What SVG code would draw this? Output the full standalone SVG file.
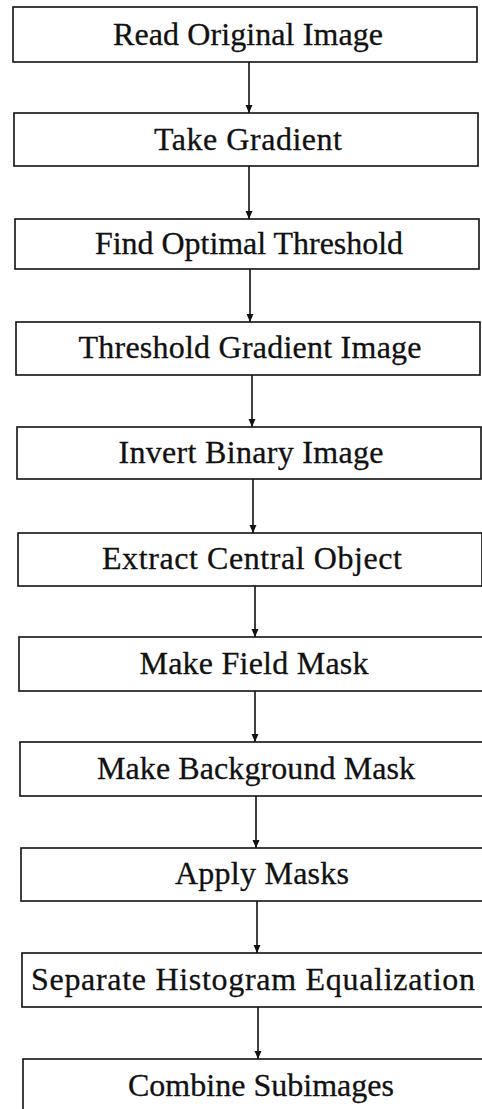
<svg xmlns="http://www.w3.org/2000/svg" width="482" height="1109" viewBox="0 0 482 1109">
<defs>
<style>
.box{fill:#fff;stroke:#111;stroke-width:1.6}
.lbl{font-family:"Liberation Serif","Times New Roman",serif;font-size:32px;fill:#111;stroke:#111;stroke-width:0.3;text-anchor:middle}
.conn{stroke:#111;stroke-width:1.6;fill:none}
</style>
<marker id="ah" viewBox="0 0 8 10" refX="8" refY="5" markerWidth="8" markerHeight="10" markerUnits="userSpaceOnUse" orient="auto">
<path d="M0,1.5 L8,5 L0,8.5 Z" fill="#111"/>
</marker>
</defs>
<rect width="482" height="1109" fill="#fff"/>
<g id="n1"><rect class="box" x="13" y="7" width="464" height="55"/><text class="lbl" x="248" y="45" textLength="270" lengthAdjust="spacing">Read Original Image</text></g>
<g id="n2"><rect class="box" x="14" y="113" width="464" height="53"/><text class="lbl" x="248" y="150" textLength="188" lengthAdjust="spacing">Take Gradient</text></g>
<g id="n3"><rect class="box" x="15" y="219" width="464" height="50"/><text class="lbl" x="249" y="254" textLength="308" lengthAdjust="spacing">Find Optimal Threshold</text></g>
<g id="n4"><rect class="box" x="16" y="322" width="464" height="53"/><text class="lbl" x="250" y="358" textLength="343" lengthAdjust="spacing">Threshold Gradient Image</text></g>
<g id="n5"><rect class="box" x="17" y="427" width="464" height="52"/><text class="lbl" x="251" y="463" textLength="265" lengthAdjust="spacing">Invert Binary Image</text></g>
<g id="n6"><rect class="box" x="18" y="533" width="464" height="53"/><text class="lbl" x="252" y="569" textLength="300" lengthAdjust="spacing">Extract Central Object</text></g>
<g id="n7"><rect class="box" x="19" y="637" width="464" height="54"/><text class="lbl" x="254" y="674" textLength="229" lengthAdjust="spacing">Make Field Mask</text></g>
<g id="n8"><rect class="box" x="20" y="742" width="464" height="54"/><text class="lbl" x="256" y="779" textLength="318" lengthAdjust="spacing">Make Background Mask</text></g>
<g id="n9"><rect class="box" x="21" y="848" width="464" height="53"/><text class="lbl" x="262" y="884" textLength="174" lengthAdjust="spacing">Apply Masks</text></g>
<g id="n10"><rect class="box" x="22" y="953" width="464" height="54"/><text class="lbl" x="253" y="990" textLength="444" lengthAdjust="spacing">Separate Histogram Equalization</text></g>
<g id="n11"><rect class="box" x="23" y="1059" width="464" height="60"/><text class="lbl" x="261" y="1096" textLength="266" lengthAdjust="spacing">Combine Subimages</text></g>
<g id="connectors">
<line class="conn" x1="249" y1="62" x2="249" y2="113" marker-end="url(#ah)"/>
<line class="conn" x1="249" y1="166" x2="249" y2="219" marker-end="url(#ah)"/>
<line class="conn" x1="250" y1="269" x2="250" y2="322" marker-end="url(#ah)"/>
<line class="conn" x1="252" y1="375" x2="252" y2="427" marker-end="url(#ah)"/>
<line class="conn" x1="253" y1="479" x2="253" y2="533" marker-end="url(#ah)"/>
<line class="conn" x1="255" y1="586" x2="255" y2="637" marker-end="url(#ah)"/>
<line class="conn" x1="255" y1="691" x2="255" y2="742" marker-end="url(#ah)"/>
<line class="conn" x1="256" y1="796" x2="256" y2="848" marker-end="url(#ah)"/>
<line class="conn" x1="257" y1="901" x2="257" y2="953" marker-end="url(#ah)"/>
<line class="conn" x1="258" y1="1007" x2="258" y2="1059" marker-end="url(#ah)"/>
</g>
</svg>
